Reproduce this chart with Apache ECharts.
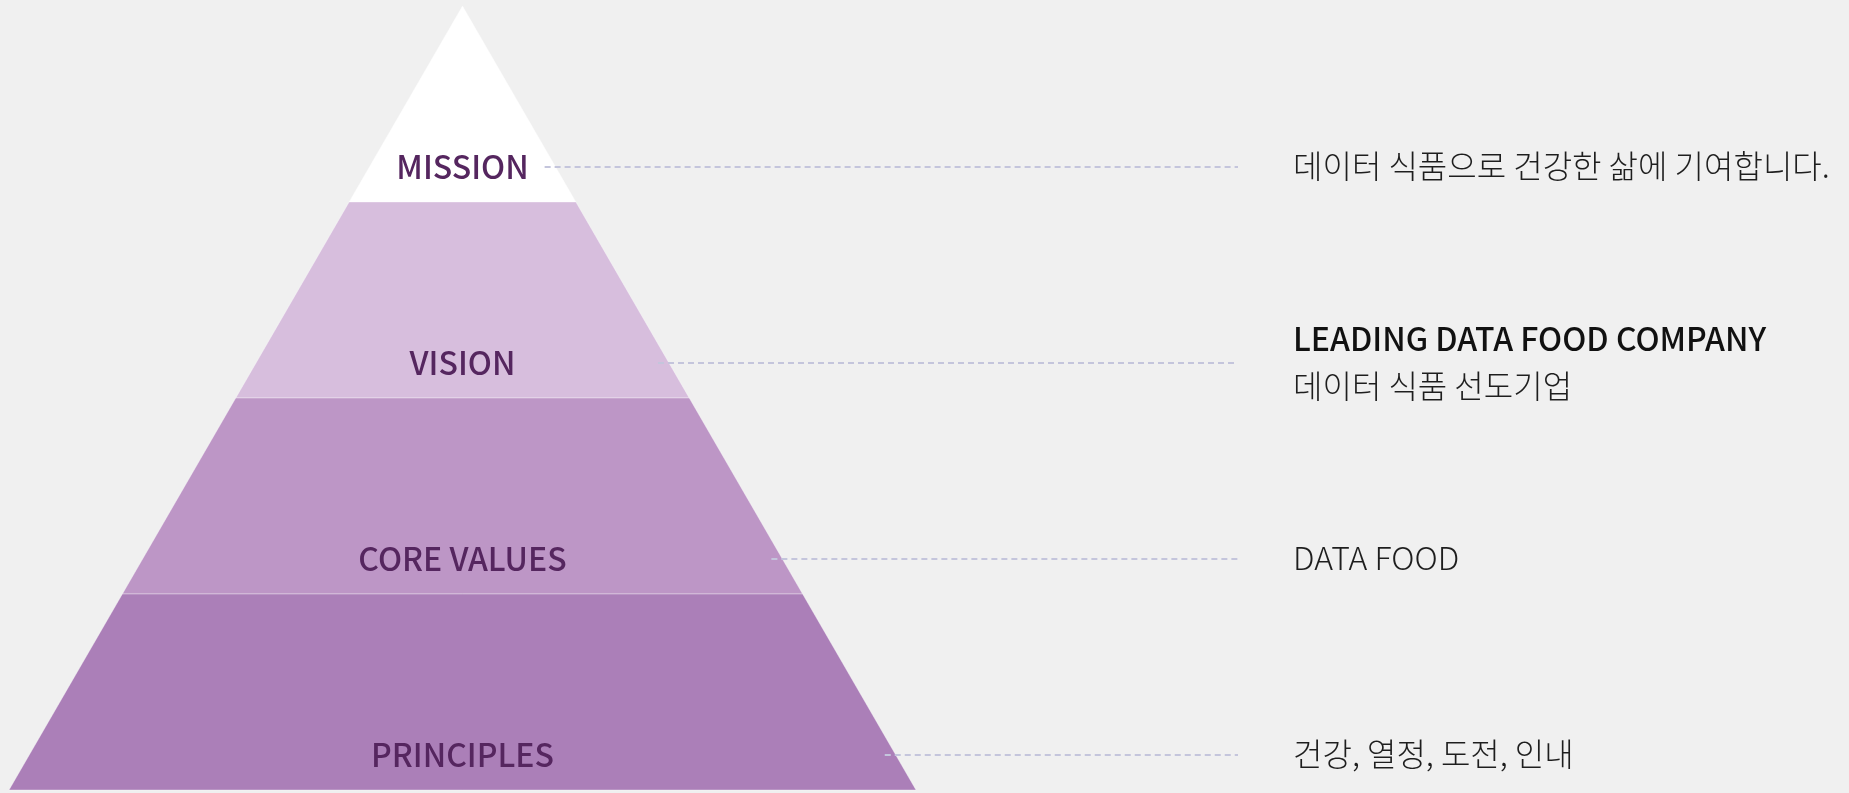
<!DOCTYPE html>
<html>
<head>
<meta charset="utf-8">
<script src="https://cdn.jsdelivr.net/npm/echarts@6/dist/echarts.min.js"></script>
<style>
  html, body { margin: 0; padding: 0; background: #f0f0f0; }
  #main { width: 1849px; height: 793px; }
</style>
</head>
<body>
<div id="main"></div>
<script>
// pyramid levels, top to bottom
var categories = ["MISSION", "VISION", "CORE VALUES", "PRINCIPLES"];
var levelValues = [25, 50, 75, 100];
var levelColors = ["#ffffff", "#d7bedd", "#bd96c6", "#ab7fb8"];
var headlines = ["", "LEADING DATA FOOD COMPANY", "", ""];
var descriptions = [
  "데이터 식품으로 건강한 삶에 기여합니다.",
  "데이터 식품 선도기업",
  "DATA FOOD",
  "건강, 열정, 도전, 인내"
];

var FONT = "'Noto Sans CJK KR', 'Noto Sans', sans-serif";
var LABEL_DY = 63;
var LINE_END = 1238;
var TEXT_X = 1293;

var chartDom = document.getElementById("main");
var myChart = echarts.init(chartDom);

var funnelBase = {
  type: "funnel",
  left: 9,
  top: 6,
  width: 907,
  height: 784,
  min: 0,
  max: 100,
  minSize: "0%",
  maxSize: "100%",
  sort: "ascending",
  gap: 0,
  silent: true,
  animation: false
};

var pyramidData = categories.map(function (name, i) {
  return { name: name, value: levelValues[i], itemStyle: { color: levelColors[i] } };
});

var textData = categories.map(function (name, i) {
  return { name: name, value: levelValues[i] };
});

var option = {
  backgroundColor: "#f0f0f0",
  series: [
    Object.assign({}, funnelBase, {
      z: 2,
      data: pyramidData,
      itemStyle: { borderColor: "rgba(255,255,255,0.35)", borderWidth: 1 },
      label: {
        show: true,
        position: "inside",
        formatter: "{b}",
        color: "#55265f",
        fontSize: 32,
        fontWeight: 500,
        fontFamily: FONT
      },
      labelLayout: { dy: LABEL_DY }
    }),
    Object.assign({}, funnelBase, {
      z: 3,
      data: textData,
      itemStyle: { color: "rgba(0,0,0,0)", borderWidth: 0 },
      label: {
        show: true,
        position: "right",
        fontFamily: FONT,
        formatter: function (p) {
          var i = p.dataIndex;
          var s = "{n|" + descriptions[i] + "}";
          if (headlines[i]) s = "{h|" + headlines[i] + "}\n" + s;
          return s;
        },
        rich: {
          h: { fontFamily: FONT, fontSize: 32, fontWeight: 500, color: "#111111", lineHeight: 47 },
          n: { fontFamily: FONT, fontSize: 32, fontWeight: 300, color: "#1e1e1e", lineHeight: 47 }
        }
      },
      labelLine: {
        show: true,
        length: 40,
        lineStyle: { color: "#c4c5dc", width: 2, type: [6, 4] }
      },
      labelLayout: function (params) {
        var r = params.rect;
        var lineY = r.y + r.height / 2 + LABEL_DY;
        var pts = params.labelLinePoints;
        var midX = pts ? pts[0][0] : r.x + r.width;
        var midY = pts ? pts[0][1] : r.y + r.height / 2;
        var botX = r.x + r.width;
        var botY = r.y + r.height;
        var t = (lineY - midY) / (botY - midY);
        var edgeX = midX + t * (botX - midX);
        return {
          x: TEXT_X,
          y: lineY - 1,
          align: "left",
          verticalAlign: "middle",
          labelLinePoints: [[edgeX - 11, lineY], [LINE_END, lineY]]
        };
      }
    })
  ]
};

option && myChart.setOption(option);
</script>
</body>
</html>
